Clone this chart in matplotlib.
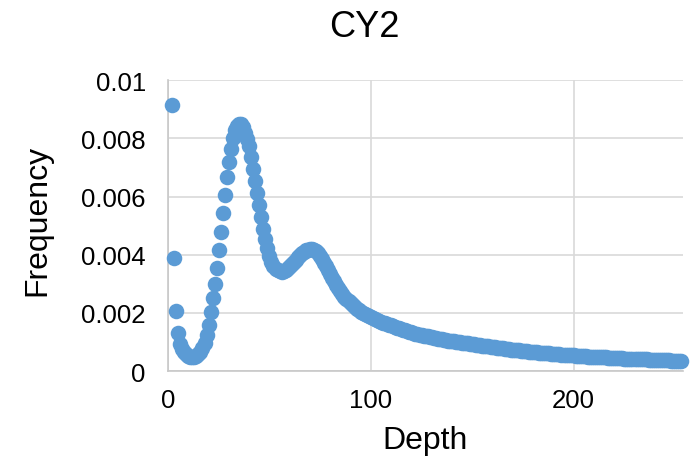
import numpy as np
import matplotlib
matplotlib.use("Agg")
import matplotlib.pyplot as plt

plt.rcParams['font.family'] = ['Liberation Sans', 'DejaVu Sans']

# frequency per read depth (depth 2..253)
freq = [
    0.00914, 0.00390, 0.00205, 0.00130, 0.00092, 0.00076, 0.00066, 0.00058, 0.00053, 0.00050,
    0.00049, 0.00050, 0.00053, 0.00058, 0.00066, 0.00078, 0.00098, 0.00125, 0.00160, 0.00203,
    0.00250, 0.00300, 0.00354, 0.00416, 0.00479, 0.00544, 0.00607, 0.00668, 0.00720, 0.00765,
    0.00803, 0.00828, 0.00843, 0.00850, 0.00848, 0.00838, 0.00820, 0.00798, 0.00774, 0.00735,
    0.00694, 0.00654, 0.00612, 0.00570, 0.00530, 0.00490, 0.00454, 0.00422, 0.00396, 0.00376,
    0.00362, 0.00352, 0.00346, 0.00343, 0.00342, 0.00344, 0.00348, 0.00353, 0.00360, 0.00367,
    0.00375, 0.00383, 0.00391, 0.00398, 0.00405, 0.00410, 0.00415, 0.00418, 0.00420, 0.00420,
    0.00418, 0.00413, 0.00405, 0.00396, 0.00385, 0.00373, 0.00360, 0.00347, 0.00334, 0.00321,
    0.00309, 0.00297, 0.00286, 0.00275, 0.00265, 0.00256, 0.00248, 0.00240, 0.00233, 0.00226,
    0.00220, 0.00214, 0.00209, 0.00204, 0.00200, 0.00196, 0.00192, 0.00188, 0.00185, 0.00182,
    0.00179, 0.00176, 0.00173, 0.00170, 0.00167, 0.00165, 0.00162, 0.00159, 0.00157, 0.00154,
    0.00152, 0.00149, 0.00147, 0.00144, 0.00142, 0.00140, 0.00137, 0.00135, 0.00133, 0.00131,
    0.00129, 0.00127, 0.00125, 0.00124, 0.00122, 0.00121, 0.00120, 0.00118, 0.00117, 0.00115,
    0.00114, 0.00112, 0.00111, 0.00109, 0.00108, 0.00107, 0.00105, 0.00104, 0.00103, 0.00102,
    0.00101, 0.00100, 0.00099, 0.00098, 0.00097, 0.00096, 0.00095, 0.00094, 0.00093, 0.00092,
    0.00091, 0.00090, 0.00089, 0.00088, 0.00087, 0.00086, 0.00085, 0.00084, 0.00083, 0.00082,
    0.00081, 0.00080, 0.00079, 0.00078, 0.00077, 0.00076, 0.00075, 0.00074, 0.00073, 0.00072,
    0.00072, 0.00071, 0.00070, 0.00069, 0.00069, 0.00068, 0.00067, 0.00067, 0.00066, 0.00065,
    0.00065, 0.00064, 0.00063, 0.00063, 0.00062, 0.00061, 0.00061, 0.00060, 0.00060, 0.00059,
    0.00058, 0.00058, 0.00057, 0.00057, 0.00056, 0.00055, 0.00055, 0.00054, 0.00054, 0.00053,
    0.00053, 0.00052, 0.00052, 0.00051, 0.00051, 0.00050, 0.00050, 0.00050, 0.00049, 0.00049,
    0.00048, 0.00048, 0.00047, 0.00047, 0.00047, 0.00046, 0.00046, 0.00045, 0.00045, 0.00045,
    0.00044, 0.00044, 0.00044, 0.00043, 0.00043, 0.00043, 0.00042, 0.00042, 0.00042, 0.00041,
    0.00041, 0.00041, 0.00040, 0.00040, 0.00040, 0.00039, 0.00039, 0.00039, 0.00038, 0.00038,
    0.00038, 0.00038, 0.00037, 0.00037, 0.00037, 0.00037, 0.00036, 0.00036, 0.00036, 0.00036,
    0.00035, 0.00035,
]
depth = np.arange(2, len(freq) + 2)

xticks = [0, 100, 200]
yticks = [0, 0.002, 0.004, 0.006, 0.008, 0.01]
yticklabels = ['0', '0.002', '0.004', '0.006', '0.008', '0.01']

fig = plt.figure(figsize=(7, 4.64), dpi=100)
ax = fig.add_axes([0.24, 0.198, 0.736, 0.627])

ax.scatter(depth, freq, s=125, color='#5B9BD5', linewidths=0, clip_on=False, zorder=3)

ax.set_xlim(0, 254)
ax.set_ylim(0, 0.01)
ax.set_xticks(xticks)
ax.set_yticks(yticks)
ax.set_yticklabels(yticklabels)
ax.tick_params(length=0, labelsize=18.5, colors='black')
ax.tick_params(axis='x', pad=12)
ax.tick_params(axis='y', pad=16)
ax.grid(True, color='#D9D9D9', linewidth=1.2)
ax.set_axisbelow(True)
for side in ['top', 'right']:
    ax.spines[side].set_visible(False)
for side in ['left', 'bottom']:
    ax.spines[side].set_color('#C8C8C8')
    ax.spines[side].set_linewidth(1.2)

fig.text(0.521, 0.94, 'CY2', ha='center', va='center', fontsize=26)
fig.text(0.607, 0.05, 'Depth', ha='center', va='center', fontsize=23)
fig.text(0.054, 0.525, 'Frequency', ha='center', va='center', rotation=90, fontsize=23)

fig.savefig('out.png', dpi=100, facecolor='white')
